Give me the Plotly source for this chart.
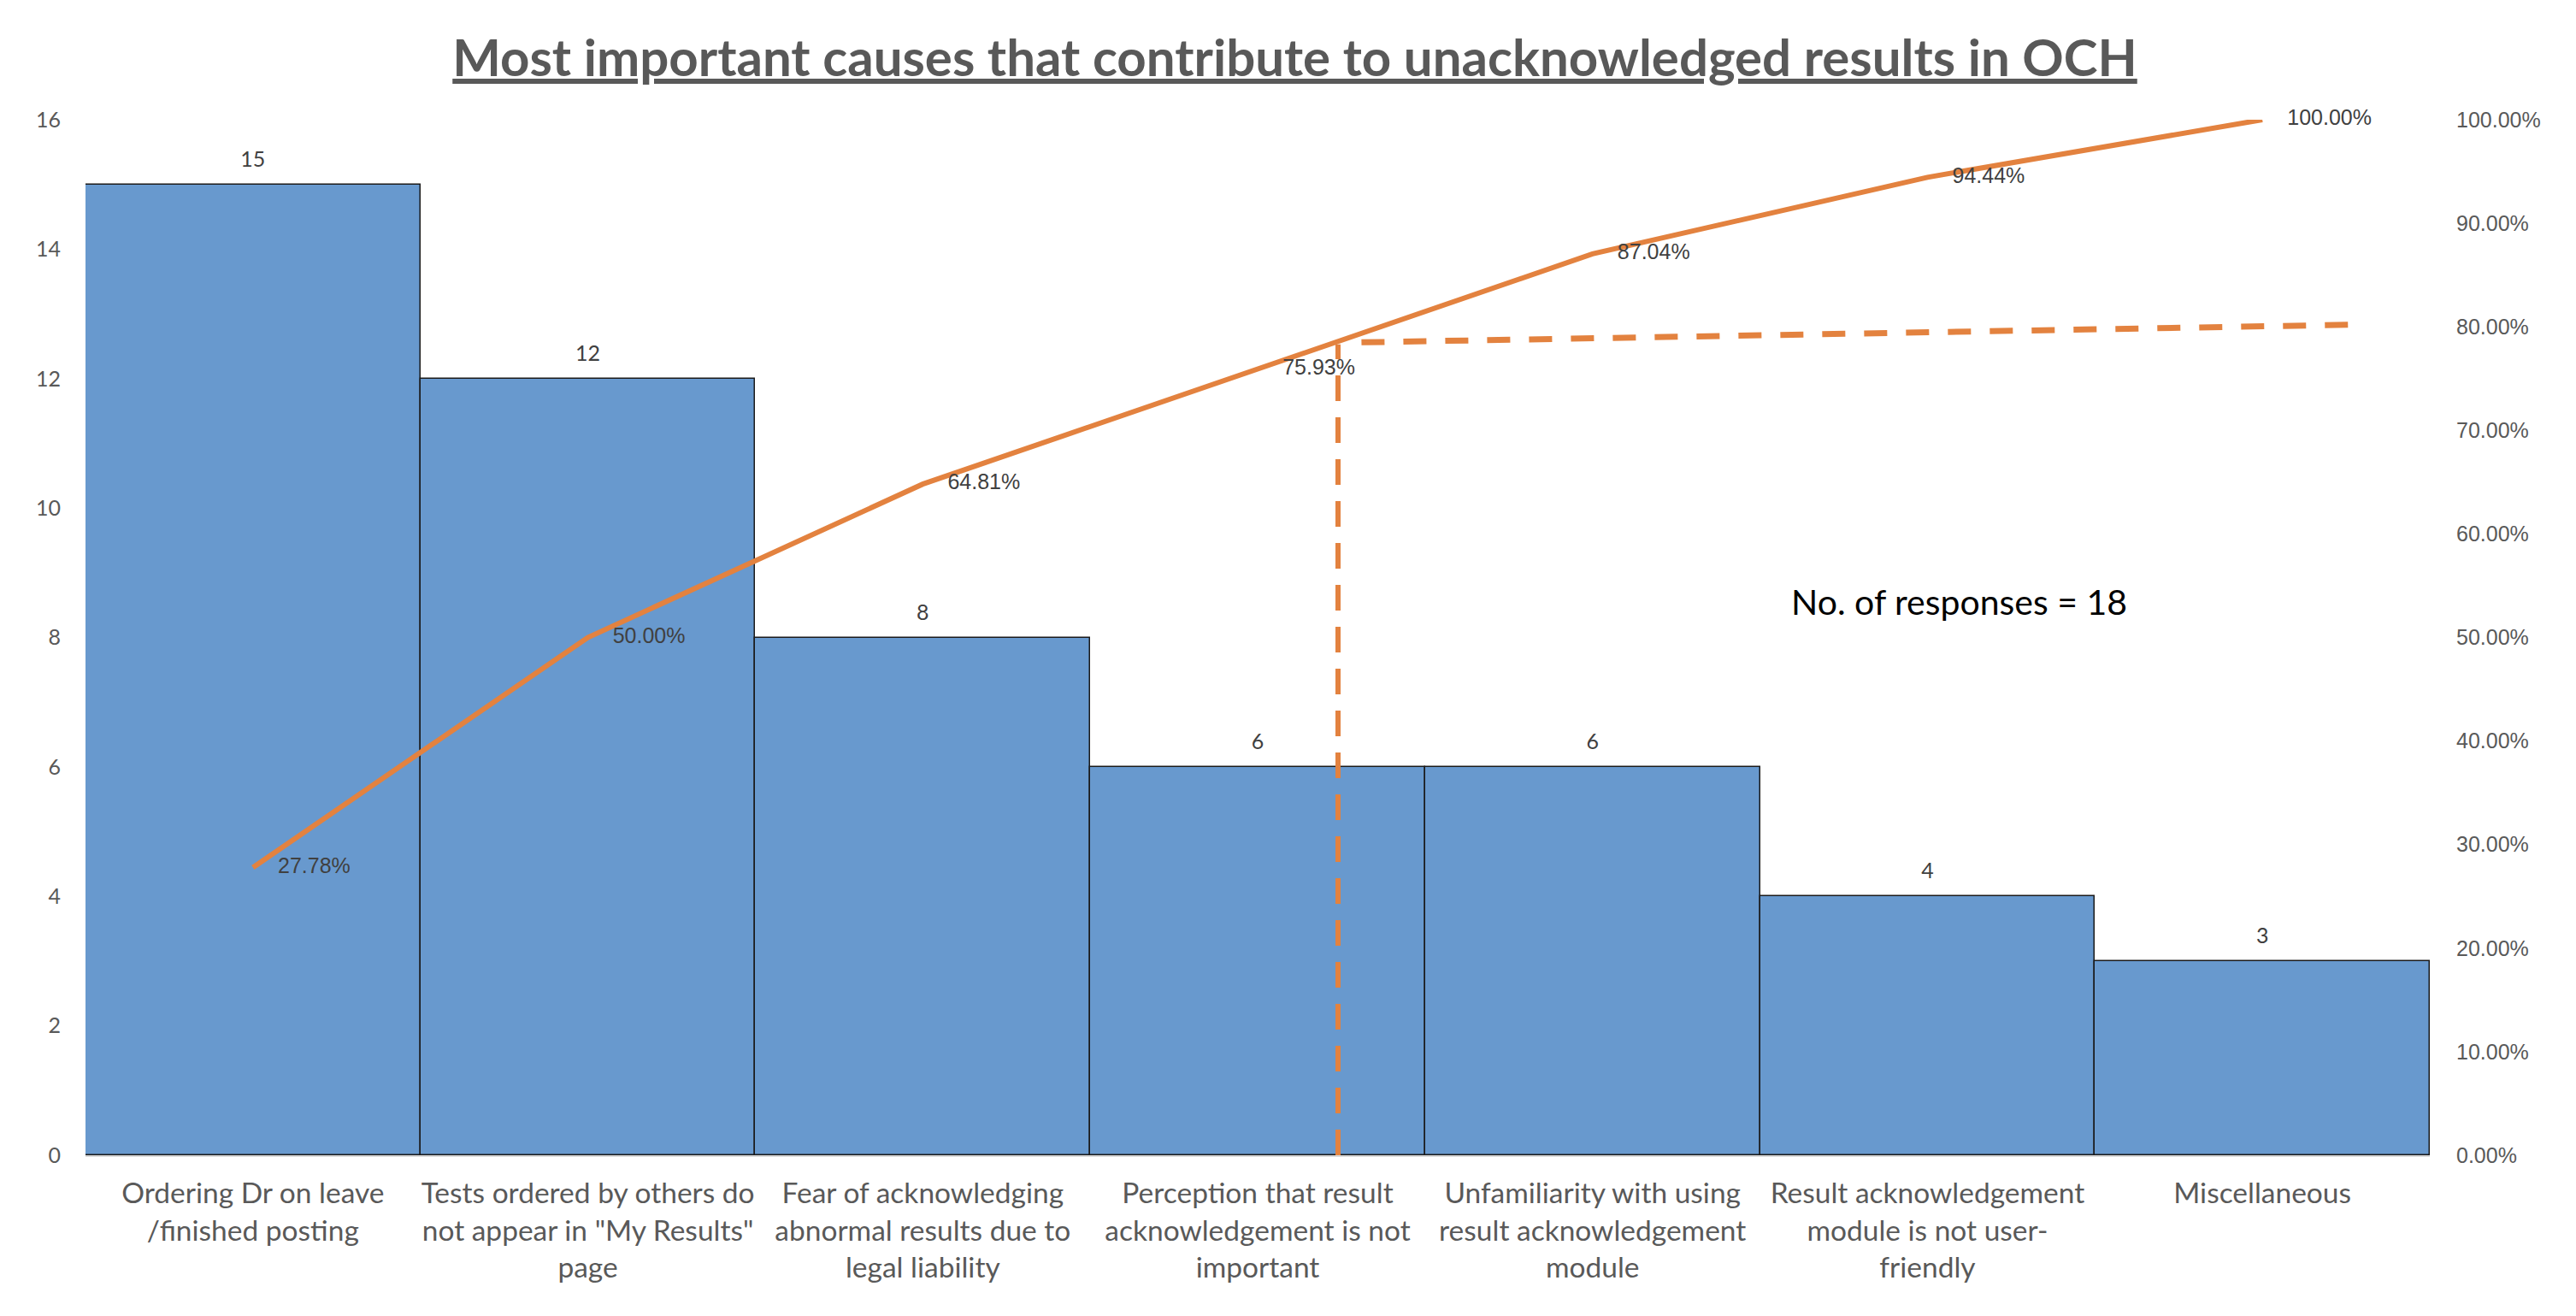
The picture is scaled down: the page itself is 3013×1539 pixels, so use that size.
import plotly.graph_objects as go

# ---- data ----
categories = [
    "Ordering Dr on leave<br>/finished posting",
    "Tests ordered by others do<br>not appear in \"My Results\"<br>page",
    "Fear of acknowledging<br>abnormal results due to<br>legal liability",
    "Perception that result<br>acknowledgement is not<br>important",
    "Unfamiliarity with using<br>result acknowledgement<br>module",
    "Result acknowledgement<br>module is not user-<br>friendly",
    "Miscellaneous",
]
counts = [15, 12, 8, 6, 6, 4, 3]
cumulative_pct = [0.2778, 0.5000, 0.6481, 0.7593, 0.8704, 0.9444, 1.0000]

left_ticks = [0, 2, 4, 6, 8, 10, 12, 14, 16]
right_ticks = [0, 0.1, 0.2, 0.3, 0.4, 0.5, 0.6, 0.7, 0.8, 0.9, 1.0]

# hand-drawn 80% cut-off guide
cutoff_vertical_x = [3.24, 3.24]
cutoff_vertical_y = [0.0, 0.783]
cutoff_horizontal_x = [3.31, 6.26]
cutoff_horizontal_y = [0.785, 0.802]

note_text = "No. of responses = 18"
title_text = "Most important causes that contribute to unacknowledged results in OCH"

positions = list(range(len(categories)))

BAR_COLOR = "#6899CE"
LINE_COLOR = "#E3823F"
GRAY = "#595959"
DARK = "#404040"

fig = go.Figure()

fig.add_trace(go.Bar(
    x=positions, y=counts, width=1,
    marker=dict(color=BAR_COLOR, line=dict(color="#1a1a1a", width=1.5)),
    hoverinfo="skip", showlegend=False,
))

# bar value labels
fig.add_trace(go.Scatter(
    x=positions, y=counts, mode="markers+text",
    text=[str(c) for c in counts], textposition="top center",
    textfont=dict(family="Lato", size=25, color=DARK),
    marker=dict(size=22, opacity=0),
    hoverinfo="skip", showlegend=False, cliponaxis=False,
))

# cumulative line
fig.add_trace(go.Scatter(
    x=positions, y=cumulative_pct, yaxis="y2",
    mode="lines+markers+text",
    line=dict(color=LINE_COLOR, width=6),
    marker=dict(size=45, opacity=0),
    texttemplate="%{y:.2%}", textposition="middle right",
    textfont=dict(family="Liberation Sans", size=25, color=DARK),
    hoverinfo="skip", showlegend=False, cliponaxis=False,
))

# cut-off guide lines
fig.add_trace(go.Scatter(
    x=cutoff_vertical_x, y=cutoff_vertical_y, yaxis="y2", mode="lines",
    line=dict(color=LINE_COLOR, width=6, dash="30px,19px"),
    hoverinfo="skip", showlegend=False,
))
fig.add_trace(go.Scatter(
    x=cutoff_horizontal_x, y=cutoff_horizontal_y, yaxis="y2", mode="lines",
    line=dict(color=LINE_COLOR, width=7, dash="27px,22px"),
    hoverinfo="skip", showlegend=False,
))

fig.update_layout(
    width=3013, height=1539,
    margin=dict(l=92, r=179, t=132, b=196),
    paper_bgcolor="white", plot_bgcolor="white",
    bargap=0,
    title=dict(
        text="<b><u>" + title_text + "</u></b>",
        x=0.5, xanchor="center", xref="container",
        y=1 - 60 / 1539, yanchor="middle", yref="container",
        font=dict(family="Lato", size=60, color=GRAY),
    ),
    xaxis=dict(
        range=[-0.5, len(categories) - 0.5],
        tickvals=positions, ticktext=categories,
        tickfont=dict(family="Lato", size=33.5, color=GRAY),
        showgrid=False, zeroline=False,
        showline=True, linecolor="#D9D9D9", linewidth=2,
        ticks="", ticklabelstandoff=14,
    ),
    yaxis=dict(
        range=[0, 16], tickvals=left_ticks,
        tickfont=dict(family="Lato", size=25, color=GRAY),
        showgrid=False, zeroline=False, showline=False,
        ticks="", ticklabelstandoff=28,
    ),
    yaxis2=dict(
        range=[0, 1], tickvals=right_ticks, tickformat=".2%",
        overlaying="y", side="right",
        tickfont=dict(family="Liberation Sans", size=25, color=GRAY),
        showgrid=False, zeroline=False, showline=False,
        ticks="", ticklabelstandoff=30,
    ),
    annotations=[dict(
        text=note_text, xref="paper", yref="paper",
        x=0.7994, y=0.535, xanchor="center", yanchor="middle",
        showarrow=False,
        font=dict(family="Lato", size=41, color="black"),
    )],
)

fig.write_html("out.html")
